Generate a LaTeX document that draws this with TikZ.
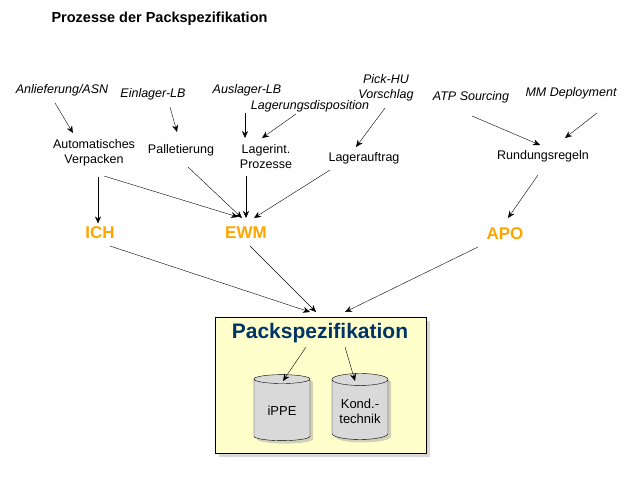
\documentclass[tikz,border=0pt]{standalone}
\usepackage{fontspec}
\setmainfont{Liberation Sans}
\usetikzlibrary{positioning}
\usetikzlibrary{shapes.geometric}
\usetikzlibrary{arrows.meta}
\usetikzlibrary{shadows}
\definecolor{sysorange}{HTML}{FFA500}
\definecolor{boxyellow}{HTML}{FFFFCC}
\definecolor{titleblue}{HTML}{003366}
\definecolor{cylgray}{HTML}{D9D9D9}

\begin{document}
\begin{tikzpicture}[
	x=1pt, y=-1pt,
	arrow/.style={-{Stealth[length=7pt,width=6pt]}},
	src/.style={font=\fontsize{12.5}{15}\selectfont\itshape, align=center},
	proc/.style={font=\fontsize{12.5}{15}\selectfont, align=center},
	sys/.style={font=\fontsize{17}{20}\selectfont\bfseries, text=sysorange},
	store/.style={cylinder, shape border rotate=90, aspect=0.25, draw, fill=cylgray,
		minimum width=56pt, minimum height=66pt, drop shadow={shadow xshift=3pt, shadow yshift=-3pt, fill=gray!70},
		font=\fontsize{13}{15}\selectfont, align=center},
]
\useasboundingbox (0,0) rectangle (641,482);

\node[anchor=west,font=\fontsize{14.5}{17}\selectfont\bfseries] (title) at (48,19) {Prozesse der Packspezifikation};

% sources
\node[src] (asn) at (62,90) {Anlieferung/ASN};
\node[src] (elb) at (153,94) {Einlager-LB};
\node[src] (alb) at (247,90) {Auslager-LB};
\node[src] (ldisp) at (310,106) {Lagerungsdisposition};
\node[src] (pick) at (386,88) {Pick-HU\\Vorschlag};
\node[src] (atp) at (471,97) {ATP Sourcing};
\node[src] (mm) at (571,93) {MM Deployment};

% processes
\node[proc] (auto) at (94,153) {Automatisches\\Verpacken};
\node[proc] (pal) at (181,150) {Palletierung};
\node[proc] (lint) at (266,157) {Lagerint.\\Prozesse};
\node[proc] (lauf) at (364,158) {Lagerauftrag};
\node[proc] (rund) at (543,156) {Rundungsregeln};

% systems
\node[sys] (ich) at (100,233) {ICH};
\node[sys] (ewm) at (246,233) {EWM};
\node[sys] (apo) at (505,234) {APO};

% pack box
\node[draw, fill=boxyellow, minimum width=211pt, minimum height=136pt, anchor=north west,
	drop shadow={shadow xshift=4pt, shadow yshift=-4pt, fill=gray!60}] (box) at (215,317) {};
\node[font=\fontsize{21}{24}\selectfont\bfseries, text=titleblue] (pspec) at (320,333) {Packspezifikation};
\node[store] (ippe) at (282,411) {iPPE};
\node[store] (kond) at (360,411) {Kond.-\\technik};

\draw[arrow] (55,103) -- (73,133);
\draw[arrow] (170,107) -- (177,132);
\draw[arrow] (245,113) -- (245,138);
\draw[arrow] (296,114) -- (262,138);
\draw[arrow] (385,108) -- (356,147);
\draw[arrow] (472,116) -- (540,145);
\draw[arrow] (597,113) -- (565,138);
\draw[arrow] (98,177) -- (ich.north -| 98,0);
\draw[arrow] (104,176) -- (238,217);
\draw[arrow] (188,167) -- (242,218);
\draw[arrow] (246,176) -- (246,218);
\draw[arrow] (330,170) -- (254,218);
\draw[arrow] (538,175) -- (508,218);
\draw[arrow] (110,246) -- (310,312);
\draw[arrow] (250,246) -- (316,312);
\draw[arrow] (478,247) -- (345,312);
\draw[arrow] (306,347) -- (283,381);
\draw[arrow] (345,347) -- (355,381);
\end{tikzpicture}
\end{document}
